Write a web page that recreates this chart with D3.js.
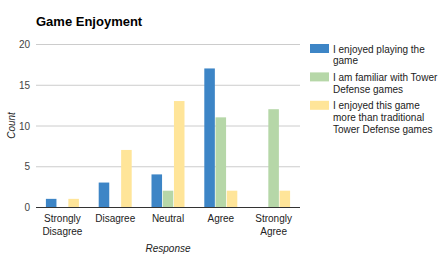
<!DOCTYPE html>
<html>
<head>
<meta charset="utf-8">
<script src="https://cdn.jsdelivr.net/npm/d3@7"></script>
<style>
body { margin: 0; background: #fff; }
text { font-family: "Liberation Sans", Arial, sans-serif; }
</style>
</head>
<body>
<div id="chart"></div>
<script>
var categories = ["Strongly Disagree", "Disagree", "Neutral", "Agree", "Strongly Agree"];
var seriesNames = ["I enjoyed playing the game", "I am familiar with Tower Defense games", "I enjoyed this game more than traditional Tower Defense games"];
var enjoyed = [1, 3, 4, 17, 0];
var familiar = [0, 0, 2, 11, 12];
var moreThan = [1, 7, 13, 2, 2];
var yTicks = [0, 5, 10, 15, 20];
var colors = ["#3d85c6", "#b6d7a8", "#ffe599"];

var series = [enjoyed, familiar, moreThan];

var width = 447, height = 264;
var margin = {top: 44, left: 36, right: 147, bottom: 57};
var plotW = width - margin.left - margin.right;
var plotH = height - margin.top - margin.bottom;

var svg = d3.select("#chart")
    .append("svg")
    .attr("width", width)
    .attr("height", height);

svg.append("text")
    .attr("x", 36)
    .attr("y", 26)
    .attr("font-size", "13px")
    .attr("font-weight", "bold")
    .attr("fill", "#000")
    .text("Game Enjoyment");

var g = svg.append("g")
    .attr("transform", `translate(${margin.left},${margin.top})`);

var x = d3.scaleBand()
    .domain(categories)
    .range([0, plotW]);

var y = d3.scaleLinear()
    .domain([0, 20])
    .range([plotH, 0]);

var x1 = d3.scaleBand()
    .domain([0, 1, 2])
    .range([0, 33])
    .paddingInner(0.06);

// grid
g.append("g")
    .selectAll("line")
    .data(yTicks.filter(d => d > 0))
    .enter()
    .append("line")
    .attr("x1", 0)
    .attr("x2", plotW)
    .attr("y1", d => y(d) + 0.5)
    .attr("y2", d => y(d) + 0.5)
    .attr("stroke", "#ccc");

g.append("g")
    .selectAll("text")
    .data(yTicks)
    .enter()
    .append("text")
    .attr("x", -6)
    .attr("y", d => y(d) + 4)
    .attr("text-anchor", "end")
    .attr("font-size", "10px")
    .attr("fill", "#444")
    .text(d => d);

// bars
categories.forEach(function(c, i) {
    var gx = x(c) + (x.bandwidth() - 33) / 2;
    series.forEach(function(s, j) {
        if (s[i] <= 0) return;
        g.append("rect")
            .attr("x", gx + x1(j))
            .attr("y", y(s[i]))
            .attr("width", x1.bandwidth())
            .attr("height", plotH - y(s[i]))
            .attr("fill", colors[j]);
    });
});

// baseline
g.append("line")
    .attr("x1", 0)
    .attr("x2", plotW)
    .attr("y1", plotH + 0.5)
    .attr("y2", plotH + 0.5)
    .attr("stroke", "#333");

// x labels
var xl = g.append("g")
    .selectAll("text")
    .data(categories)
    .enter()
    .append("text")
    .attr("text-anchor", "middle")
    .attr("font-size", "10px")
    .attr("fill", "#222")
    .attr("transform", d => `translate(${x(d) + x.bandwidth() / 2},${plotH + 15})`);

xl.each(function(d) {
    var words = d.split(" ");
    var t = d3.select(this);
    words.forEach(function(w, k) {
        t.append("tspan")
            .attr("x", 0)
            .attr("dy", k == 0 ? 0 : 13)
            .text(w);
    });
});

svg.append("text")
    .attr("x", margin.left + plotW / 2)
    .attr("y", 252)
    .attr("text-anchor", "middle")
    .attr("font-size", "10px")
    .attr("font-style", "italic")
    .attr("fill", "#222")
    .text("Response");

svg.append("text")
    .attr("transform", `translate(15,${margin.top + plotH / 2}) rotate(-90)`)
    .attr("text-anchor", "middle")
    .attr("font-size", "10px")
    .attr("font-style", "italic")
    .attr("fill", "#222")
    .text("Count");

// legend
var legendLines = [
    ["I enjoyed playing the", "game"],
    ["I am familiar with Tower", "Defense games"],
    ["I enjoyed this game", "more than traditional", "Tower Defense games"]
];
var ly = 44;
legendLines.forEach(function(lines, i) {
    svg.append("rect")
        .attr("x", 310)
        .attr("y", ly)
        .attr("width", 19)
        .attr("height", 9)
        .attr("fill", colors[i]);
    lines.forEach(function(l, k) {
        svg.append("text")
            .attr("x", 333)
            .attr("y", ly + 8.5 + k * 11.7)
            .attr("font-size", "10px")
            .attr("fill", "#222")
            .text(l);
    });
    ly += lines.length * 11.7 + 5;
});
</script>
</body>
</html>
